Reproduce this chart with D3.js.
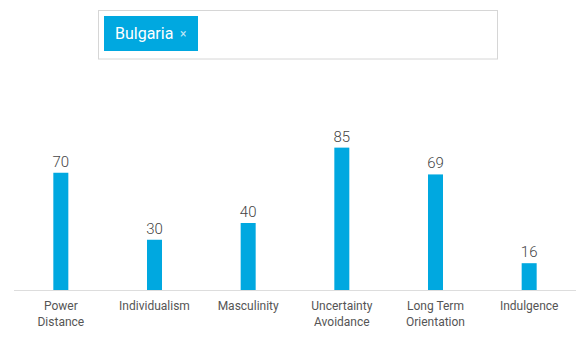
<!DOCTYPE html>
<html>
<head>
<meta charset="utf-8">
<script src="https://cdn.jsdelivr.net/npm/d3@7"></script>
<style>
  html, body { margin: 0; padding: 0; background: #fff; }
  svg { display: block; }
</style>
</head>
<body>
<svg id="chart" width="587" height="342"></svg>
<script>
const country = "Bulgaria";
const categories = ["Power Distance", "Individualism", "Masculinity", "Uncertainty Avoidance", "Long Term Orientation", "Indulgence"];
const categoryLines = [["Power", "Distance"], ["Individualism"], ["Masculinity"], ["Uncertainty", "Avoidance"], ["Long Term", "Orientation"], ["Indulgence"]];
const values = [70, 30, 40, 85, 69, 16];

const svg = d3.select("#chart");
const font = "Roboto, 'Open Sans', sans-serif";

// search box with tag
svg.append("rect").attr("x", 98.5).attr("y", 10.5).attr("width", 399).attr("height", 48.5)
  .attr("fill", "#fff").attr("stroke", "#d6d6d6").attr("stroke-width", 1);
svg.append("rect").attr("x", 104).attr("y", 16).attr("width", 94).attr("height", 35)
  .attr("fill", "#00a8e0");
svg.append("text").attr("x", 115).attr("y", 38.7).text(country)
  .attr("fill", "#fff").attr("font-family", font).attr("font-size", 16);
svg.append("text").attr("x", 180).attr("y", 37.5).text("×")
  .attr("fill", "#bfe6f6").attr("font-family", font).attr("font-size", 12);

const x = d3.scaleBand().domain(categories).range([14, 576]).paddingInner(0).paddingOuter(0);
const y = d3.scaleLinear().domain([0, 100]).range([290, 122.5]);
const barW = 15;

// axis baseline
const axis = d3.axisBottom(x).tickSize(0).tickFormat("");
const gAxis = svg.append("g").attr("transform", "translate(0,290.5)").call(axis);
gAxis.select(".domain").attr("stroke", "#dddddd").attr("d", "M14,0H576");

svg.selectAll("rect.bar").data(values).enter().append("rect")
  .attr("class", "bar")
  .attr("x", (d, i) => x(categories[i]) + x.bandwidth() / 2 - barW / 2)
  .attr("y", d => y(d))
  .attr("width", barW)
  .attr("height", d => y(0) - y(d))
  .attr("fill", "#00a8e0");

svg.selectAll("text.val").data(values).enter().append("text")
  .attr("class", "val")
  .attr("x", (d, i) => x(categories[i]) + x.bandwidth() / 2)
  .attr("y", d => y(d) - 6)
  .attr("text-anchor", "middle")
  .attr("font-family", font)
  .attr("font-weight", 300)
  .attr("font-size", 15)
  .attr("fill", "#444")
  .text(d => d);

const labels = svg.selectAll("text.cat").data(categoryLines).enter().append("text")
  .attr("class", "cat")
  .attr("text-anchor", "middle")
  .attr("font-family", font)
  .attr("font-size", 12)
  .attr("fill", "#555");
labels.each(function(lines, i) {
  const t = d3.select(this);
  lines.forEach((l, j) => {
    t.append("tspan")
      .attr("x", x(categories[i]) + x.bandwidth() / 2)
      .attr("y", 310 + j * 16)
      .text(l);
  });
});
</script>
</body>
</html>
